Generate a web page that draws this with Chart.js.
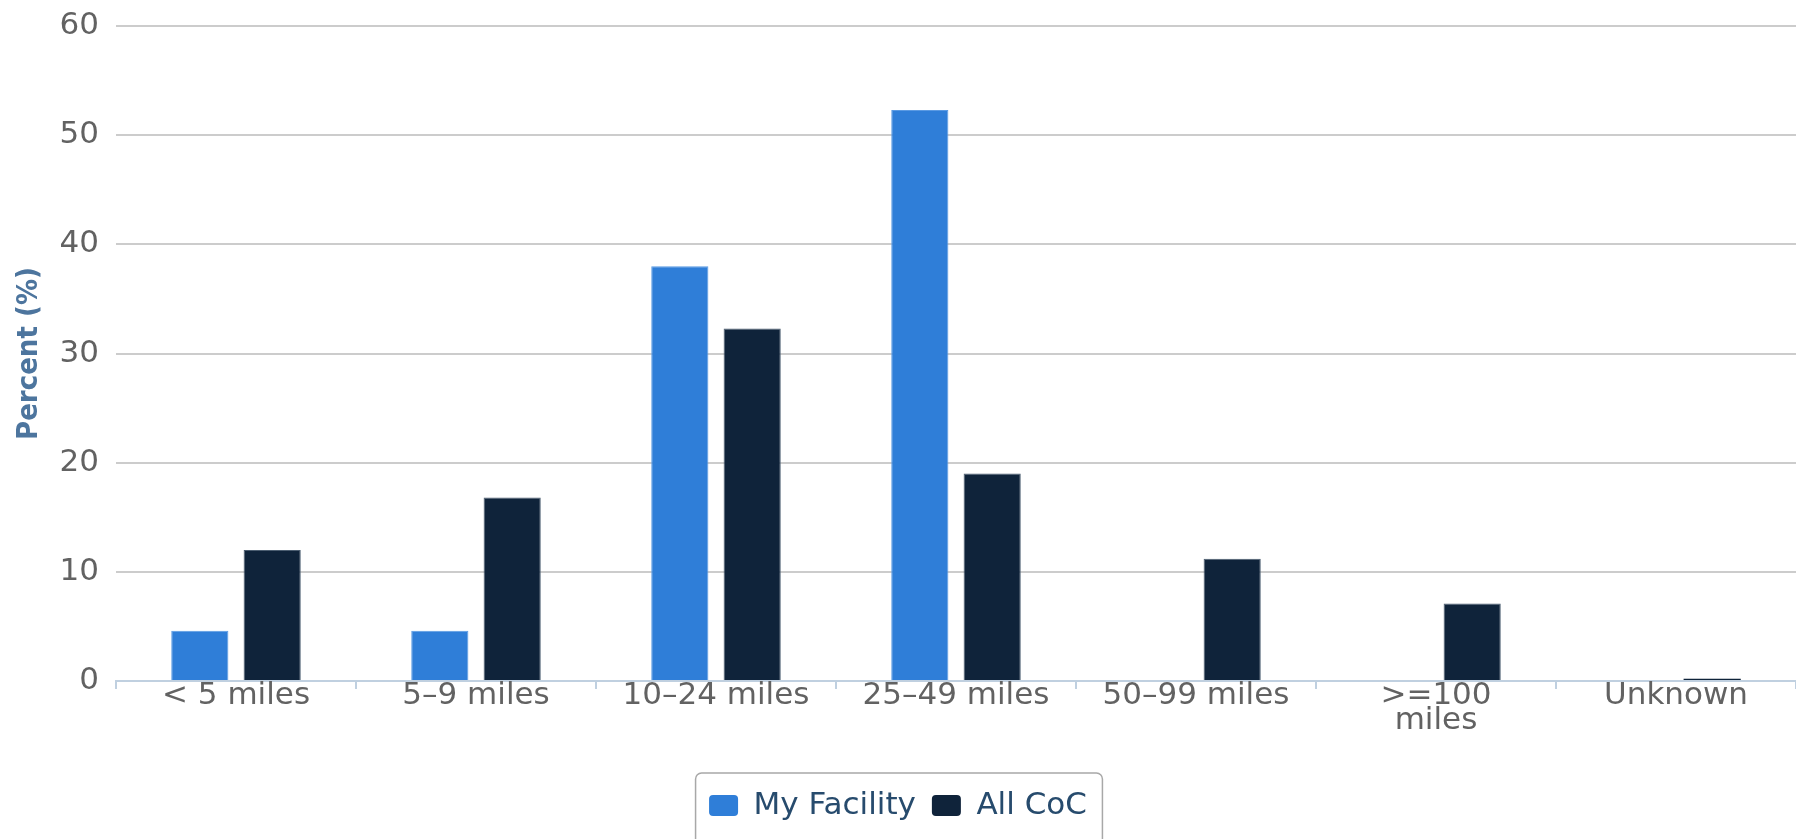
<!DOCTYPE html>
<html>
<head>
<meta charset="utf-8">
<script src="https://cdn.jsdelivr.net/npm/chart.js@4/dist/chart.umd.min.js"></script>
<style>
  html, body { margin: 0; padding: 0; background: #ffffff; }
  #wrap { width: 1796px; height: 839px; position: relative; }
</style>
</head>
<body>
<div id="wrap"><canvas id="c" width="1796" height="839"></canvas></div>
<script>
const categories = ['< 5 miles', '5–9 miles', '10–24 miles', '25–49 miles', '50–99 miles', ['>=100', 'miles'], 'Unknown'];
const myFacility = [4.6, 4.6, 38.0, 52.3, 0, 0, 0];
const allCoC = [12.0, 16.8, 32.3, 19.0, 11.2, 7.1, 0.2];
const seriesNames = ['My Facility', 'All CoC'];
const yTicks = { min: 0, max: 60, step: 10 };
const yTitle = 'Percent (%)';

Chart.defaults.font.family = '"DejaVu Sans", sans-serif';

const legendBorder = {
  id: 'legendBorder',
  afterDraw(chart) {
    const lg = chart.legend;
    if (!lg || !lg.legendHitBoxes || !lg.legendHitBoxes.length) return;
    const hb = lg.legendHitBoxes;
    const first = hb[0], last = hb[hb.length - 1];
    const left = first.left - 14;
    const right = last.left + last.width + 15;
    const cy = first.top + first.height / 2;
    const top = cy - 33;
    const ctx = chart.ctx;
    ctx.save();
    ctx.strokeStyle = '#a8a8a8';
    ctx.lineWidth = 1.5;
    ctx.beginPath();
    ctx.roundRect(left + 0.5, top + 0.5, right - left, 80, 6);
    ctx.stroke();
    ctx.restore();
  }
};

new Chart(document.getElementById('c'), {
  type: 'bar',
  data: {
    labels: categories,
    datasets: [
      {
        label: seriesNames[0],
        data: myFacility,
        backgroundColor: '#2f7ed8',
        borderColor: '#5a9ae3',
        borderWidth: (ctx) => (ctx.raw !== undefined && ctx.raw < 1 ? 0 : 1),
        categoryPercentage: 0.603,
        barPercentage: 0.79
      },
      {
        label: seriesNames[1],
        data: allCoC,
        backgroundColor: '#0f233a',
        borderColor: '#4b5d70',
        borderWidth: (ctx) => (ctx.raw !== undefined && ctx.raw < 1 ? 0 : 1),
        categoryPercentage: 0.603,
        barPercentage: 0.79
      }
    ]
  },
  options: {
    responsive: false,
    animation: false,
    devicePixelRatio: 1,
    layout: { padding: { top: 26, right: 0, left: 0, bottom: 8 } },
    scales: {
      x: {
        afterFit: (s) => { s.height = 93; },
        grid: {
          drawOnChartArea: false,
          drawTicks: true,
          tickLength: 8,
          color: '#c0d0e0',
          lineWidth: 2
        },
        border: { display: true, color: '#c0d0e0', width: 2 },
        ticks: {
          color: '#626262',
          font: { size: 31, lineHeight: 0.82 },
          padding: -6,
          autoSkip: false,
          maxRotation: 0,
          minRotation: 0
        }
      },
      y: {
        min: yTicks.min,
        max: yTicks.max,
        afterFit: (s) => { s.width = 116; s.paddingTop = 0; s.paddingBottom = 0; },
        grid: {
          drawTicks: false,
          color: (ctx) => (ctx.tick && ctx.tick.value === 0 ? 'rgba(0,0,0,0)' : '#cccccc'),
          lineWidth: 2
        },
        border: { display: false },
        ticks: {
          stepSize: yTicks.step,
          color: '#626262',
          font: { size: 31 },
          padding: 17,
          labelOffset: 0
        },
        title: {
          display: true,
          text: yTitle,
          color: '#4d759e',
          font: { family: '"DejaVu Sans Condensed", "DejaVu Sans", sans-serif', size: 29, weight: 'bold', lineHeight: 1.2 },
          padding: { top: 12, bottom: 0 }
        }
      }
    },
    plugins: {
      tooltip: { enabled: false },
      legend: {
        display: true,
        position: 'bottom',
        labels: {
          boxWidth: 29,
          boxHeight: 21,
          useBorderRadius: true,
          borderRadius: 4,
          color: '#274b6d',
          font: { size: 31 },
          padding: 16,
          generateLabels: (chart) => Chart.defaults.plugins.legend.labels.generateLabels(chart).map(l => Object.assign(l, { lineWidth: 0 }))
        }
      }
    }
  },
  plugins: [legendBorder]
});
</script>
</body>
</html>
